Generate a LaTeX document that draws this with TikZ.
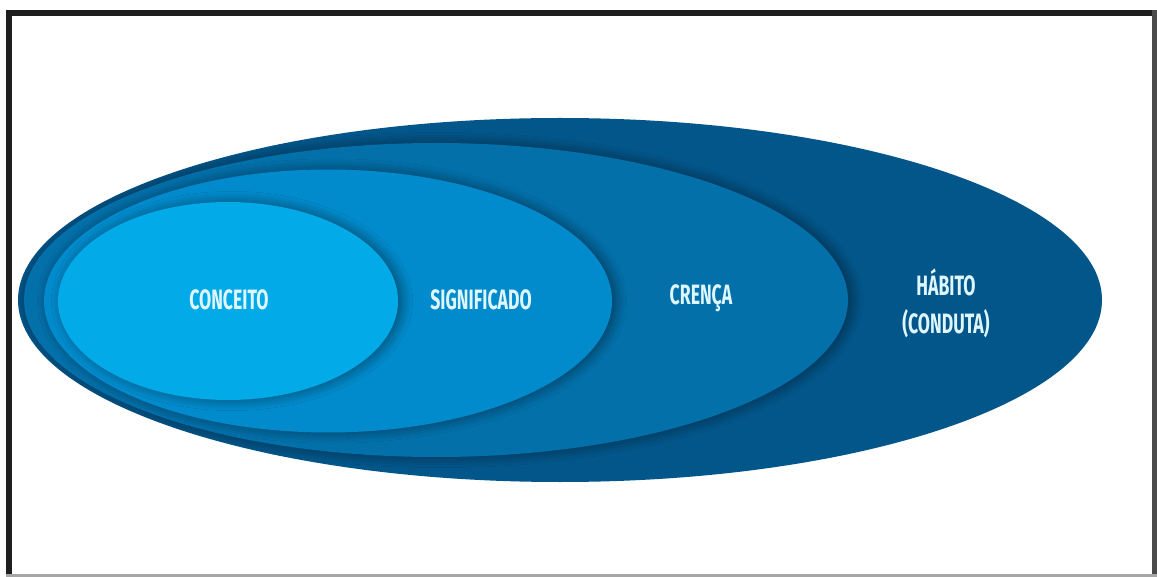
\documentclass[tikz,border=0pt]{standalone}
\usepackage{fontspec}
\setmainfont{Fira Sans}[FakeStretch=0.63]
\usetikzlibrary{shapes.geometric,shadows.blur}
\definecolor{cHab}{HTML}{03568A}
\definecolor{cCre}{HTML}{0370AA}
\definecolor{cSig}{HTML}{028BCC}
\definecolor{cCon}{HTML}{03AAE8}
\definecolor{txtc}{HTML}{DDF6FF}
\definecolor{framec}{HTML}{1E1E1E}
\begin{document}
\begin{tikzpicture}[x=0.75pt,y=-0.75pt,
  layer/.style={ellipse, inner sep=0pt, draw=none},
  shade/.style={blur shadow={shadow xshift=3pt, shadow yshift=0pt, shadow blur radius=8pt, shadow opacity=45, shadow blur steps=14}},
  lbl/.style={text=txtc, font=\bfseries\fontsize{21}{28.5}\selectfont, align=center}]
\fill[white] (0,0) rectangle (1157,577);
\useasboundingbox (0,0) rectangle (1157,577);
% frame
\fill[framec] (6,10) rectangle (1157,16);
\fill[framec] (6,10) rectangle (12,577);
\fill[framec!80] (1152,10) rectangle (1157,577);
\fill[gray!70] (6,574) rectangle (1157,577);
% ellipses
\node[layer, fill=cHab, minimum width=813pt, minimum height=273pt] (hab) at (560,300) {};
\begin{scope}
  \clip (hab.center) ellipse [x radius=406.5pt, y radius=136.5pt];
  \node[layer, fill=cCre, shade, minimum width=618pt, minimum height=235.5pt] (cre) at (436,300) {};
  \begin{scope}
    \clip (cre.center) ellipse [x radius=309pt, y radius=117.75pt];
    \node[layer, fill=cSig, shade, minimum width=426pt, minimum height=197.25pt] (sig) at (328,301) {};
    \begin{scope}
      \clip (sig.center) ellipse [x radius=213pt, y radius=98.625pt];
      \node[layer, fill=cCon, shade, minimum width=255pt, minimum height=148.5pt] (con) at (228,301) {};
    \end{scope}
  \end{scope}
\end{scope}
% labels
\node[lbl] (tCon) at (229,300) {CONCEITO};
\node[lbl] (tSig) at (481,300) {SIGNIFICADO};
\node[lbl] (tCre) at (701,298) {CRENÇA};
\node[lbl] (tHab) at (946,303) {HÁBITO\\(CONDUTA)};
\end{tikzpicture}
\end{document}
